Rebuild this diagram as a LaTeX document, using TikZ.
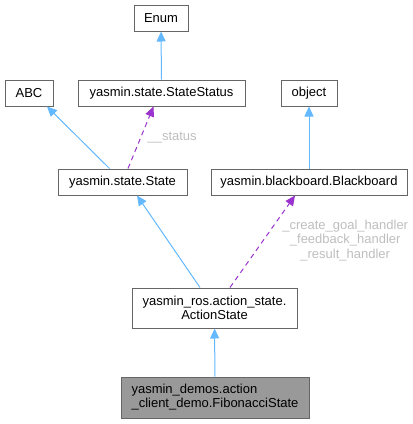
\documentclass[tikz,border=0pt]{standalone}
\usepackage{fontspec}
\setmainfont{Liberation Sans}
\usetikzlibrary{arrows.meta, positioning}
\definecolor{cInh}{RGB}{99,184,255}
\definecolor{cUse}{RGB}{154,50,205}
\definecolor{cLbl}{RGB}{190,190,190}
\definecolor{cCur}{RGB}{153,153,153}
\definecolor{cBox}{RGB}{102,102,102}

\begin{document}
\begin{tikzpicture}[
      x=1pt, y=-1pt,
      cls/.style={draw=cBox, fill=white, line width=1pt, inner sep=0pt,
                  minimum height=26pt, font=\fontsize{13}{14}\selectfont},
      inh/.style={draw=cInh, line width=1pt, ->},
      usg/.style={draw=cUse, line width=1pt, dash pattern=on 5pt off 4pt, ->},
      lbl/.style={text=cLbl, font=\fontsize{13}{14.5}\selectfont, align=center},
      >={Triangle[length=10pt, width=9pt]}]
    \useasboundingbox (0,0) rectangle (413,424);
    \node[cls, minimum width=54pt] (enum) at (161,18) {Enum};
    \node[cls, minimum width=48pt] (abc) at (29,93) {ABC};
    \node[cls, minimum width=167pt] (ss) at (161.5,93) {yasmin.state.StateStatus};
    \node[cls, minimum width=56pt] (ob) at (309,93) {object};
    \node[cls, minimum width=129pt] (st) at (122.5,182) {yasmin.state.State};
    \node[cls, minimum width=196pt] (bb) at (309,182) {yasmin.blackboard.Blackboard};
    \node[cls, minimum width=165pt, minimum height=40pt, align=center] (as) at (214.5,308)
      {yasmin\_ros.action\_state.\\ActionState};
    \node[cls, fill=cCur, minimum width=188pt, minimum height=41pt, align=left] (fib) at (215,397.5)
      {yasmin\_demos.action\\\_client\_demo.FibonacciState};
    \draw[inh] (ss) -- (enum);
    \draw[inh] (bb) -- (ob);
    \draw[inh] ([xshift=-13pt]st.north) -- ([xshift=18pt]abc.south);
    \draw[usg] ([xshift=5.5pt]st.north) -- node[lbl, anchor=west, xshift=3pt] {\_\_status}
      ([xshift=-8pt]ss.south);
    \draw[inh] ([xshift=-14.5pt]as.north) -- ([xshift=14.5pt]st.south);
    \draw[usg] ([xshift=15.5pt]as.north) -- node[lbl, anchor=west, xshift=16pt, yshift=1pt]
      {\_create\_goal\_handler\\\_feedback\_handler\\\_result\_handler} ([xshift=-14pt]bb.south);
    \draw[inh] (fib) -- (as);
  \end{tikzpicture}
\end{document}
